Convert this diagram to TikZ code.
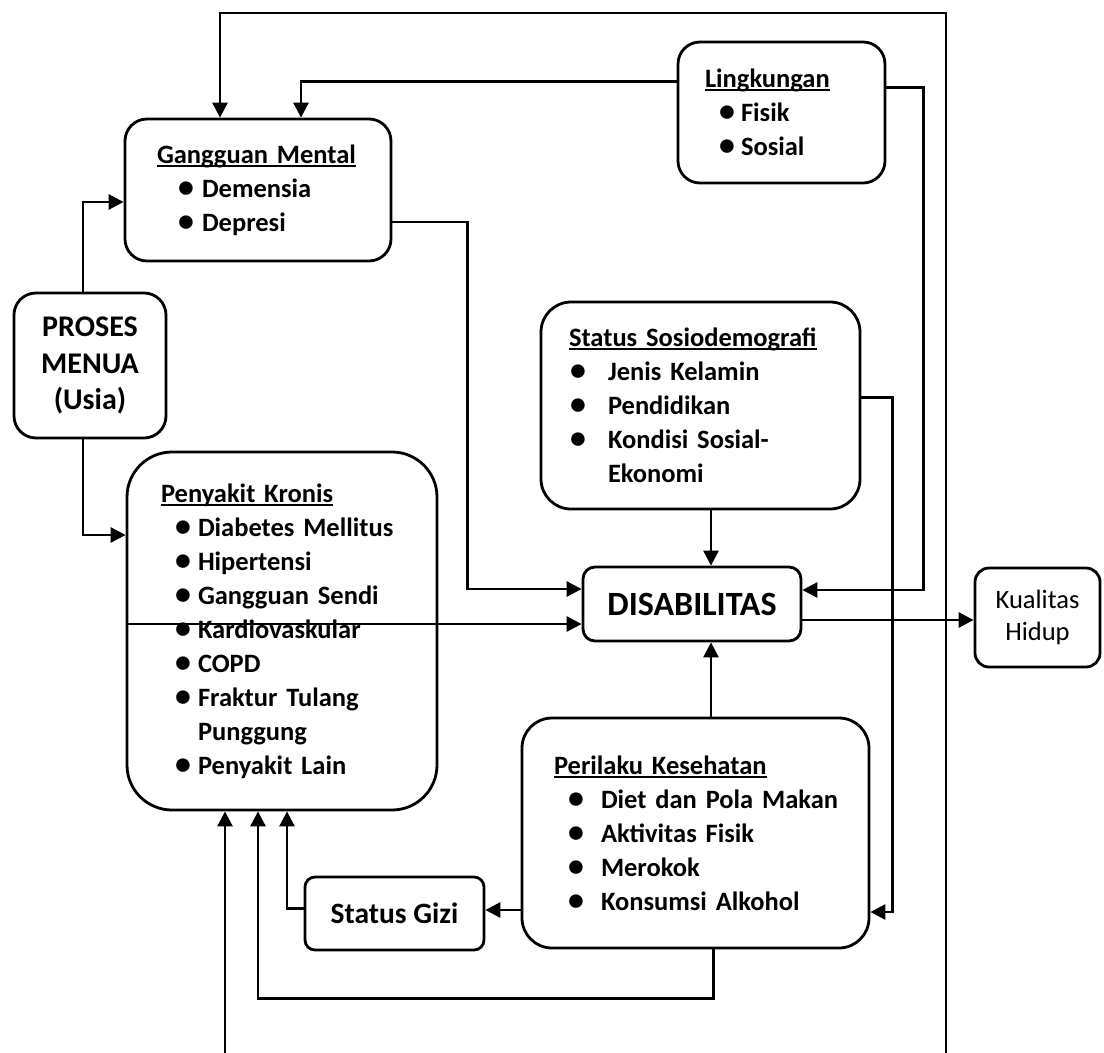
\documentclass[tikz,border=0pt]{standalone}
\usepackage{fontspec}
\setmainfont{Carlito}
\usetikzlibrary{arrows.meta}

\newsavebox\ttlbox
% underlined heading, line drawn close under the baseline
\newcommand{\ttl}[2]{\hspace*{#1}\sbox\ttlbox{#2}\rlap{\rule[-3.5pt]{\wd\ttlbox}{1.8pt}}\usebox\ttlbox}
% bullet item: left indent, room for the bullet
\newcommand{\itm}[2]{\hspace*{#1}\makebox[#2][l]{\scalebox{1.2}{\textbullet}}}

\tikzset{
  box/.style={draw, line width=2.8pt, inner sep=0pt, align=left,
    font=\fontsize{26.5}{34}\selectfont\bfseries},
  arr/.style={line width=2.8pt, -{Triangle[length=15pt,width=15pt]}},
}

\begin{document}
\begin{tikzpicture}[x=1pt,y=-1pt]
        \useasboundingbox (0,0) rectangle (1104,1053);

        % boxes
        \node[box, text width=266pt, minimum height=142pt, rounded corners=22pt] (mental) at (258,190)
          {\ttl{32pt}{Gangguan Mental}\\ \itm{53pt}{24pt}Demensia\\ \itm{53pt}{24pt}Depresi};
        \node[box, text width=207pt, minimum height=141pt, rounded corners=22pt] (lingk) at (781.5,112.5)
          {\ttl{27pt}{Lingkungan}\\ \itm{41pt}{22pt}Fisik\\ \itm{41pt}{22pt}Sosial};
        \node[box, align=center, font=\fontsize{30}{36.5}\selectfont\bfseries,
          minimum width=152pt, minimum height=145pt, rounded corners=22pt] (proses) at (90,365.5)
          {PROSES\\MENUA\\(Usia)};
        \node[box, text width=310pt, minimum height=358pt, rounded corners=45pt] (pk) at (282,631)
          {\ttl{34pt}{Penyakit Kronis}\\
           \itm{48pt}{23pt}Diabetes Mellitus\\
           \itm{48pt}{23pt}Hipertensi\\
           \itm{48pt}{23pt}Gangguan Sendi\\
           \itm{48pt}{23pt}Kardiovaskular\\
           \itm{48pt}{23pt}COPD\\
           \itm{48pt}{23pt}Fraktur Tulang\\
           \hspace*{71pt}Punggung\\
           \itm{48pt}{23pt}Penyakit Lain};
        \node[box, text width=319pt, minimum height=207pt, rounded corners=30pt] (sosio) at (700.5,405.5)
          {\ttl{28pt}{Status Sosiodemografi}\\
           \itm{29pt}{38pt}Jenis Kelamin\\
           \itm{29pt}{38pt}Pendidikan\\
           \itm{29pt}{38pt}Kondisi Sosial-\\
           \hspace*{67pt}Ekonomi};
        \node[box, font=\fontsize{34}{40}\selectfont\bfseries,
          minimum width=218pt, minimum height=74pt, rounded corners=12pt] (dis) at (692,604) {DISABILITAS};
        \node[box, align=center, font=\fontsize{26.5}{32}\selectfont,
          minimum width=125pt, minimum height=99pt, rounded corners=14pt] (kual) at (1037.5,617.5)
          {Kualitas\\Hidup};
        \node[box, text width=347pt, minimum height=230pt, rounded corners=30pt] (peril) at (695.5,833)
          {\ttl{32pt}{Perilaku Kesehatan}\\
           \itm{46pt}{33pt}Diet dan Pola Makan\\
           \itm{46pt}{33pt}Aktivitas Fisik\\
           \itm{46pt}{33pt}Merokok\\
           \itm{46pt}{33pt}Konsumsi Alkohol};
        \node[box, font=\fontsize{29.5}{34}\selectfont\bfseries,
          minimum width=179pt, minimum height=73pt, rounded corners=10pt] (gizi) at (394.5,913.5) {Status Gizi};

        % open ends at the lower edge
        \coordinate (outerbot) at (946,1053);
        \coordinate (outertop) at (946,13);
        \coordinate (leftbot) at (225,1053);

        % connectors
        \draw[arr] (outerbot) -- (outertop) -| ([xshift=-38pt]mental.north);
        \draw[arr] ([yshift=31pt]lingk.west) -| ([xshift=43pt]mental.north);
        \draw[arr] ([yshift=25pt]lingk.east) -- ++(37,0) |- ([yshift=14pt]dis.east);
        \draw[arr] ([yshift=8pt]sosio.east) -- ++(31,0) |- ([yshift=-79pt]peril.east);
        \draw[arr] ([xshift=19pt]dis.north |- sosio.south) -- ([xshift=19pt]dis.north);
        \draw[arr] ([xshift=19pt]dis.south |- peril.north) -- ([xshift=19pt]dis.south);
        \draw[arr] ([yshift=-32pt]mental.east) -- ++(75,0) |- ([yshift=15pt]dis.west);
        \draw[arr] ([yshift=7pt]pk.west) -- ([yshift=7pt]pk.west -| dis.west);
        \draw[arr] ([yshift=-16pt]dis.east) -- ([yshift=-16pt]dis.east -| kual.west);
        \draw[arr] ([xshift=-7pt]proses.north) |- ([yshift=-12pt]mental.west);
        \draw[arr] ([xshift=-7pt]proses.south) |- ([yshift=96pt]pk.west);
        \draw[arr] ([yshift=-77pt]peril.west) -- ([yshift=-77pt]peril.west -| gizi.east);
        \draw[arr] ([yshift=5pt]gizi.west) -| ([xshift=5pt]pk.south);
        \draw[arr] ([xshift=18pt]peril.south) -- ++(0,49) -| ([xshift=-24pt]pk.south);
        \draw[arr] (leftbot) -- (leftbot |- pk.south);

\end{tikzpicture}
\end{document}
